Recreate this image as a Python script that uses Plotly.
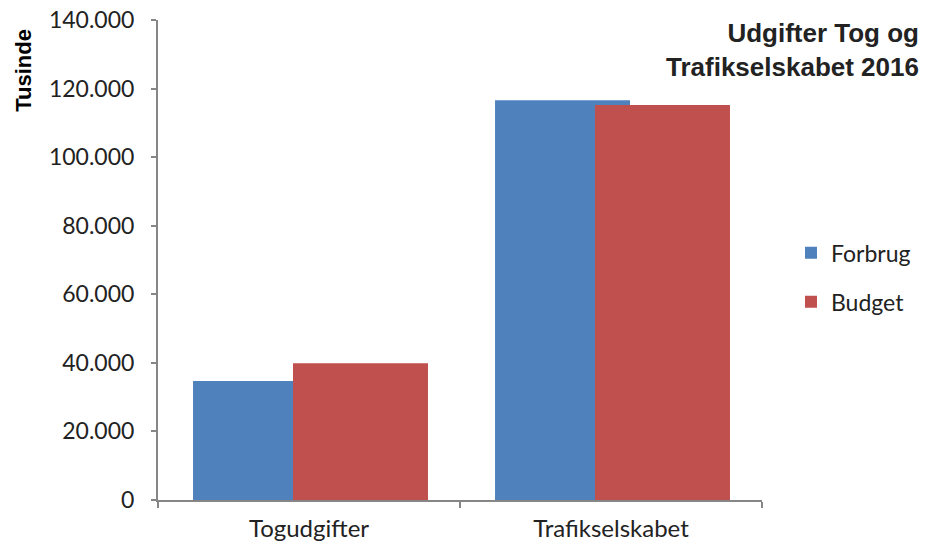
import plotly.graph_objects as go

categories = ["Togudgifter", "Trafikselskabet"]
forbrug = [34700, 116600]
budget = [39900, 115200]
tick_vals = [0, 20000, 40000, 60000, 80000, 100000, 120000, 140000]
tick_text = ["0", "20.000", "40.000", "60.000", "80.000", "100.000", "120.000", "140.000"]

BLUE = "#4F81BD"
RED = "#C0504D"
AXIS = "#868686"
FONT = "Lato, Open Sans, sans-serif"
TXT = "#222222"

fig = go.Figure()
fig.add_trace(go.Bar(x=categories, y=forbrug, name="Forbrug", marker=dict(color=BLUE, line=dict(width=0)),
                     offset=-0.384, width=0.447, legendgroup="a"))
fig.add_trace(go.Bar(x=categories, y=budget, name="Budget", marker=dict(color=RED, line=dict(width=0)),
                     offset=-0.053, width=0.447, legendgroup="b"))

fig.update_layout(
    width=926, height=547,
    margin=dict(l=158, r=164, t=20, b=47, autoexpand=False),
    barmode="overlay",
    plot_bgcolor="white", paper_bgcolor="white",
    font=dict(family=FONT, size=22, color=TXT),
    showlegend=True,
    legend=dict(x=1.048, xanchor="left", y=0.464, yanchor="middle",
                font=dict(family=FONT, size=23, color=TXT),
                traceorder="grouped", tracegroupgap=16, itemwidth=30,
                bgcolor="rgba(0,0,0,0)"),
    xaxis=dict(type="category", range=[-0.5, 1.5], showline=True, linecolor=AXIS, linewidth=2,
               ticks="outside", tickson="boundaries", ticklen=6, tickcolor=AXIS, tickwidth=2,
               showgrid=False, automargin=False, ticklabelstandoff=6,
               tickfont=dict(family=FONT, size=24, color=TXT)),
    yaxis=dict(range=[0, 140000], tickvals=tick_vals, ticktext=tick_text, showline=True,
               linecolor=AXIS, linewidth=2, ticks="outside", ticklen=5, tickcolor=AXIS, tickwidth=2,
               showgrid=False, zeroline=False, ticklabelstandoff=12, automargin=False,
               tickfont=dict(family=FONT, size=23, color=TXT)),
    annotations=[
        dict(text="<b>Udgifter Tog og<br>Trafikselskabet 2016</b>", xref="paper", yref="paper",
             x=1.2636, y=1.0085, xanchor="right", yanchor="top", align="right", showarrow=False,
             font=dict(family="Liberation Sans, Arial, sans-serif", size=26, color=TXT)),
        dict(text="<b>Tusinde</b>", xref="paper", yref="paper", x=-0.222, y=0.896,
             xanchor="center", yanchor="middle", textangle=-90, showarrow=False,
             font=dict(family="Liberation Sans, Arial, sans-serif", size=22, color="#000000")),
    ],
)

fig.write_html("out.html", config={"displayModeBar": False},
               post_script="document.body.style.margin='0';document.body.style.overflow='hidden';")
